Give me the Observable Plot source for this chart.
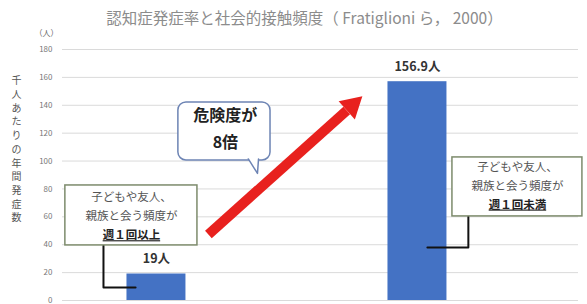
<!DOCTYPE html>
<html><head><meta charset="utf-8">
<script src="https://cdn.jsdelivr.net/npm/d3@7"></script>
<script src="https://cdn.jsdelivr.net/npm/@observablehq/plot@0.6"></script>
<style>body{margin:0;background:#fff;}</style>
</head><body><div id="chart"></div>
<script>
// ---- data ----
const categories = ["週１回以上", "週１回未満"];
const values = [19, 156.9];
const valueLabels = ["19人", "156.9人"];
const yTicks = [0, 20, 40, 60, 80, 100, 120, 140, 160, 180];
const title = "認知症発症率と社会的接触頻度（ Fratiglioni ら， 2000）";
const yUnit = "（人）";
const yLabel = "千人あたりの年間発症数";
const leftNote = ["子どもや友人、", "親族と会う頻度が", "週１回以上"];
const rightNote = ["子どもや友人、", "親族と会う頻度が", "週１回未満"];
const bubbleText = ["危険度が", "8倍"];

// ---- layout (in scale units) ----
const F = "'Noto Sans CJK JP', 'Noto Sans', sans-serif";
const barHalf = 0.113;
const data = categories.map((c, i) => ({c, i, v: values[i], label: valueLabels[i]}));
const notes = [
  {x1: -0.349, x2: 0.157, y1: 39.5, y2: 82.5, cx: -0.096, lines: leftNote, ly: [73.9, 60.3, 46.6],
   path: [[-0.203, 39.5], [-0.203, 9.3], [-0.08, 9.3]]},
  {x1: 1.134, x2: 1.632, y1: 60.3, y2: 102.6, cx: 1.383, lines: rightNote, ly: [95.4, 82.0, 68.6],
   path: [[1.195, 60.3], [1.195, 38.0], [1.038, 38.0]]}
];
const bubble = {x1: 0.084, x2: 0.437, y1: 100.4, y2: 142.0, cx: 0.264, ly: [132.7, 113.3],
  tail: [[0.352, 101.5], [0.387, 91.1], [0.391, 101.5]]};
const arrow = {x1: 0.199, y1: 47.3, x2: 0.729, y2: 136.3, hx: 0.749, hy: 139.7};

const noteMarks = notes.flatMap(n => [
  Plot.line(n.path, {x: d => d[0], y: d => d[1], stroke: "#111", strokeWidth: 2}),
  Plot.rect([n], {x1: "x1", x2: "x2", y1: "y1", y2: "y2", fill: "white", stroke: "#7d8b6c", strokeWidth: 1.5}),
  ...n.lines.map((t, k) => Plot.text([t], {x: n.cx, y: n.ly[k], fontSize: 11.5,
    fontWeight: k === 2 ? "bold" : "normal", fill: k === 2 ? "#222" : "#555"}))
]);

const chart = Plot.plot({
  width: 587, height: 304,
  marginLeft: 62, marginRight: 9, marginTop: 49, marginBottom: 4,
  style: {fontFamily: F, fontSize: "8px", color: "#777", background: "#fff", overflow: "visible"},
  x: {domain: [-0.36, 1.617], axis: null},
  y: {domain: [0, 180], ticks: yTicks, tickSize: 0, tickPadding: 10, label: null},
  marks: [
    Plot.ruleY(yTicks, {stroke: "#dadada"}),
    Plot.rectY(data, {x1: d => d.i - barHalf, x2: d => d.i + barHalf, y: "v", fill: "#4472c4"}),
    Plot.text(data, {x: "i", y: "v", text: "label", dy: -15, fontSize: 12.5, fontWeight: "bold", fill: "#333"}),
    Plot.link([arrow], {x1: "x1", y1: "y1", x2: "x2", y2: "y2", stroke: "#e8211e", strokeWidth: 10}),
    Plot.dot([arrow], {x: "hx", y: "hy", symbol: "triangle", r: 9, rotate: 48, fill: "#e8211e", stroke: null}),
    ...noteMarks,
    Plot.rect([bubble], {x1: "x1", x2: "x2", y1: "y1", y2: "y2", rx: 8, fill: "white", stroke: "#6d84b4", strokeWidth: 1.5}),
    Plot.line(bubble.tail, {x: d => d[0], y: d => d[1], fill: "white", stroke: "#6d84b4", strokeWidth: 1.5}),
    ...bubbleText.map((t, k) => Plot.text([t], {x: bubble.cx, y: bubble.ly[k], fontSize: 16, fontWeight: "bold", fill: "#222"})),
    Plot.text([title], {frameAnchor: "top", dx: -16, dy: -30, lineAnchor: "middle", fontSize: 15.5, fill: "#8c8c8c"}),
    Plot.text([yUnit], {frameAnchor: "top-left", dx: -16, dy: -16, textAnchor: "middle", lineAnchor: "middle", fontSize: 8, fill: "#666"}),
    Plot.text([yLabel.split("").join("\n")], {frameAnchor: "left", y: 109, dx: -46, textAnchor: "middle", lineAnchor: "middle", fontSize: 10, lineHeight: 1.37, fill: "#555"})
  ]
});
d3.select(chart).selectAll("text")
  .filter(function() { return this.textContent === leftNote[2] || this.textContent === rightNote[2]; })
  .attr("text-decoration", "underline");
document.getElementById("chart").appendChild(chart);
</script>
</body></html>
